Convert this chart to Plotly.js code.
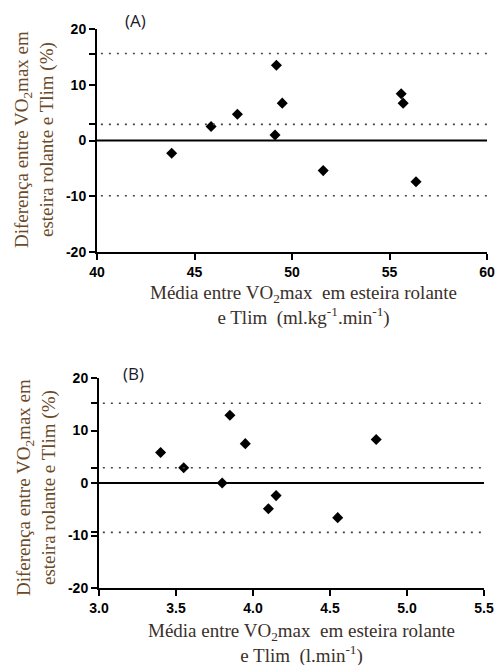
<!DOCTYPE html>
<html>
<head>
<meta charset="utf-8">
<script src="https://cdn.plot.ly/plotly-3.0.1.min.js"></script>
<style>html,body{margin:0;padding:0;background:#fff;}#chart{width:497px;height:665px;}</style>
</head>
<body>
<div id="chart"></div>
<script>
// Panel A: VO2max in ml.kg-1.min-1
const meanA = [43.83, 45.85, 47.2, 49.2, 49.13, 49.5, 51.6, 55.6, 55.7, 56.36];
const diffA = [-2.3, 2.5, 4.7, 13.5, 1.0, 6.7, -5.4, 8.4, 6.7, -7.4];
const limitsA = [15.6, 2.9, -9.9];   // upper LoA, bias, lower LoA

// Panel B: VO2max in l.min-1
const meanB = [3.40, 3.55, 3.80, 3.85, 3.95, 4.10, 4.15, 4.55, 4.80];
const diffB = [5.8, 2.9, 0.0, 12.9, 7.5, -4.9, -2.4, -6.6, 8.3];
const limitsB = [15.2, 2.9, -9.4];

const yTicks = [-20, -10, 0, 10, 20];
const xTicksA = [40, 45, 50, 55, 60];
const xTicksB = [3.0, 3.5, 4.0, 4.5, 5.0, 5.5];
const xTickTextB = ['3.0', '3.5', '4.0', '4.5', '5.0', '5.5'];

const yTitle = 'Diferença entre VO<sub>2</sub>max em<br>esteira rolante e Tlim (%)';
const xTitleA = 'Média entre VO<sub>2</sub>max  em esteira rolante<br>e Tlim  (ml.kg<sup>-1</sup>.min<sup>-1</sup>)';
const xTitleB = 'Média entre VO<sub>2</sub>max  em esteira rolante<br>e Tlim  (l.min<sup>-1</sup>)';

const markerStyle = {symbol: 'diamond', size: 8.5, color: '#000'};
const traces = [
  {x: meanA, y: diffA, type: 'scatter', mode: 'markers', marker: markerStyle, xaxis: 'x', yaxis: 'y', cliponaxis: false},
  {x: meanB, y: diffB, type: 'scatter', mode: 'markers', marker: markerStyle, xaxis: 'x2', yaxis: 'y2', cliponaxis: false}
];

const tickFont = {family: 'Liberation Sans', size: 14, color: '#000', weight: 700};
const bold = s => '<b>' + s + '</b>';

function yAxis(domain, limits) {
  const vals = yTicks.concat(limits);
  const txt = yTicks.map(v => bold(String(v))).concat(limits.map(() => ''));
  return {
    domain: domain, range: [-20, 20], tickvals: vals, ticktext: txt,
    ticks: 'outside', ticklen: 6, tickwidth: 2, tickcolor: '#000',
    showline: true, linewidth: 2, linecolor: '#000',
    showgrid: false, zeroline: false, tickfont: tickFont, fixedrange: true
  };
}
function xAxis(domain, range, vals, txt, anchor) {
  return {
    domain: domain, range: range, tickvals: vals, ticktext: txt.map(bold), anchor: anchor,
    ticks: 'outside', ticklen: 6, tickwidth: 2, tickcolor: '#000',
    showline: true, linewidth: 2, linecolor: '#000',
    showgrid: false, zeroline: false, tickfont: tickFont, fixedrange: true
  };
}

const shapes = [];
function addLines(limits, xref, yref) {
  limits.forEach(v => shapes.push({
    type: 'line', xref: xref + ' domain', yref: yref, x0: 0.01, x1: 1, y0: v, y1: v,
    line: {color: '#444', width: 1.6, dash: '2px,6px'}
  }));
  shapes.push({
    type: 'line', xref: xref + ' domain', yref: yref, x0: 0, x1: 1, y0: 0, y1: 0,
    line: {color: '#000', width: 2}
  });
}
addLines(limitsA, 'x', 'y');
addLines(limitsB, 'x2', 'y2');

const serif = 'Liberation Serif';
const annotations = [
  {text: '(A)', x: 135, y: 21},
  {text: '(B)', x: 133, y: 373}
].map(a => ({
  text: a.text, xref: 'paper', yref: 'paper', x: a.x / 497, y: 1 - a.y / 665,
  xanchor: 'center', yanchor: 'middle', showarrow: false,
  font: {family: 'Open Sans', size: 17, color: '#1a1a2a'}
}));
annotations.push(
  {text: yTitle, xref: 'paper', yref: 'paper', x: 34 / 497, y: 1 - 140 / 665, textangle: -90,
   xanchor: 'center', yanchor: 'middle', showarrow: false,
   font: {family: serif, size: 19, color: '#6b4a28'}},
  {text: yTitle, xref: 'paper', yref: 'paper', x: 36 / 497, y: 1 - 488 / 665, textangle: -90,
   xanchor: 'center', yanchor: 'middle', showarrow: false,
   font: {family: serif, size: 19, color: '#6b4a28'}},
  {text: xTitleA, xref: 'paper', yref: 'paper', x: 303 / 497, y: 1 - 305 / 665,
   xanchor: 'center', yanchor: 'middle', showarrow: false,
   font: {family: serif, size: 19, color: '#3a302a'}},
  {text: xTitleB, xref: 'paper', yref: 'paper', x: 301 / 497, y: 1 - 643 / 665,
   xanchor: 'center', yanchor: 'middle', showarrow: false,
   font: {family: serif, size: 19, color: '#3a302a'}}
);

const layout = {
  width: 497, height: 665,
  margin: {l: 0, r: 0, t: 0, b: 0},
  paper_bgcolor: '#fff', plot_bgcolor: '#fff',
  showlegend: false,
  xaxis: xAxis([97 / 497, 487 / 497], [40, 60], xTicksA, xTicksA.map(String), 'y'),
  yaxis: yAxis([1 - 252 / 665, 1 - 29 / 665], limitsA),
  xaxis2: xAxis([99 / 497, 484 / 497], [3.0, 5.5], xTicksB, xTickTextB, 'y2'),
  yaxis2: Object.assign(yAxis([1 - 588 / 665, 1 - 378 / 665], limitsB), {anchor: 'x2'}),
  shapes: shapes,
  annotations: annotations
};
layout.yaxis.anchor = 'x';

Plotly.newPlot('chart', traces, layout, {displayModeBar: false, staticPlot: true});
</script>
</body>
</html>
